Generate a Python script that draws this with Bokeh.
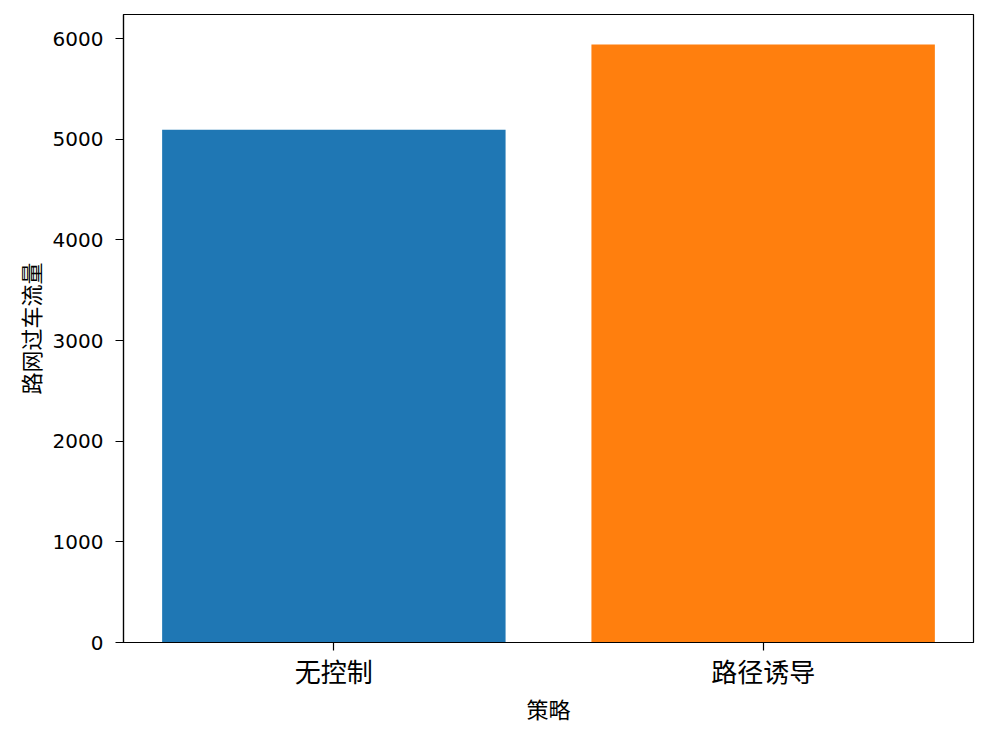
from bokeh.plotting import figure
from bokeh.models import Range1d, FixedTicker, ColumnDataSource
from bokeh.embed import file_html
from bokeh.resources import INLINE

# Data
categories = ["无控制", "路径诱导"]
values = [5094, 5943]
colors = ["#1f77b4", "#ff7f0e"]
y_ticks = [0, 1000, 2000, 3000, 4000, 5000, 6000]

xs = list(range(len(categories)))
source = ColumnDataSource(dict(x=xs, top=values, color=colors))

p = figure(width=978, height=726, output_backend="svg", toolbar_location=None,
           x_range=Range1d(-0.49, len(categories) - 1 + 0.49),
           y_range=Range1d(0, max(values) * 1.05))
p.min_border_left = 123
p.min_border_right = 5
p.min_border_top = 14
p.min_border_bottom = 79

p.vbar(x="x", top="top", width=0.8, color="color", source=source, line_color=None)

p.grid.visible = False
p.outline_line_color = "black"
p.outline_line_width = 1.2
p.background_fill_color = "white"
p.border_fill_color = "white"

p.xaxis.ticker = FixedTicker(ticks=xs)
p.xaxis.major_label_overrides = {i: c for i, c in enumerate(categories)}
p.yaxis.ticker = FixedTicker(ticks=y_ticks)

for ax in (p.xaxis[0], p.yaxis[0]):
    ax.axis_line_color = "black"
    ax.axis_line_width = 1.2
    ax.major_tick_in = 0
    ax.major_tick_out = 8
    ax.major_tick_line_color = "black"
    ax.major_tick_line_width = 1.2
    ax.minor_tick_line_color = None
    ax.axis_label_text_font = "Noto Sans CJK SC"
    ax.axis_label_text_font_style = "normal"
    ax.axis_label_text_font_size = "22px"
    ax.axis_label_text_color = "black"
    ax.major_label_text_color = "black"

p.xaxis.axis_label = "策略"
p.xaxis.major_label_text_font = "Noto Sans CJK SC"
p.xaxis.major_label_text_font_size = "26px"
p.xaxis.major_label_standoff = 1
p.xaxis.axis_label_standoff = 0

p.yaxis.axis_label = "路网过车流量"
p.yaxis.major_label_text_font = "DejaVu Sans"
p.yaxis.major_label_text_font_size = "20px"
p.yaxis.major_label_standoff = 12
p.yaxis.axis_label_standoff = 4

open("out.html", "w").write(file_html(p, INLINE))
